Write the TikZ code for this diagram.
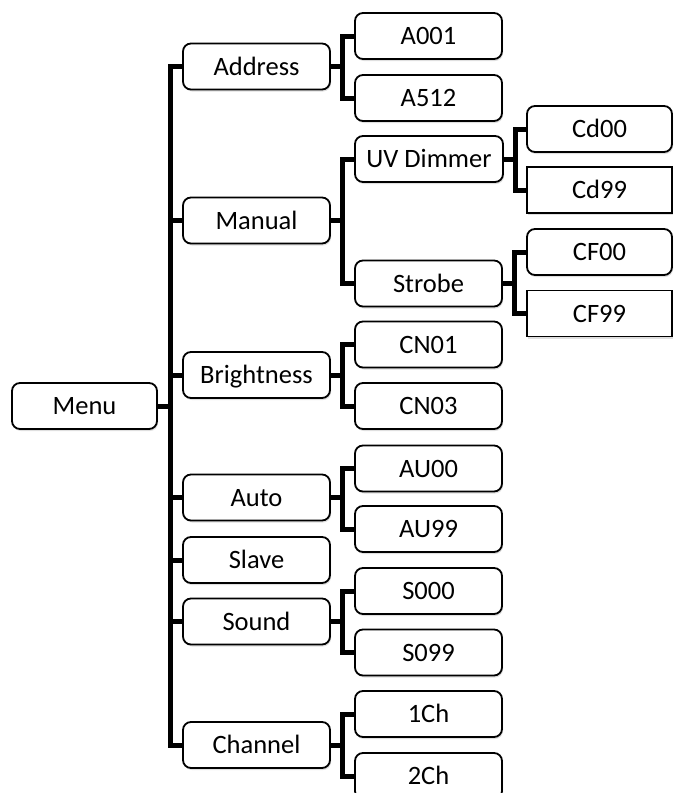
\documentclass[tikz,border=0pt]{standalone}
\usepackage{fontspec}
\setmainfont{Carlito}
\usetikzlibrary{calc,shadows}
\tikzset{
  box/.style={draw=black, line width=1.8pt, fill=white, rounded corners=8pt,
    minimum height=46pt, minimum width=147pt, inner sep=0pt,
    font=\fontsize{26.5}{30}\selectfont, text height=17pt, text depth=0pt,
    drop shadow={opacity=0.25, shadow xshift=1pt, shadow yshift=-2pt}},
  sqbox/.style={box, rounded corners=0pt},
  conn/.style={draw=black, line width=5pt}
}
\newcommand\myconn[2]{\draw[conn] (#1.east) -| ($(#1.east)!.5!(#2.west)$) |- (#2.west);}
\begin{document}
\begin{tikzpicture}[x=1pt,y=-1pt]
\useasboundingbox (0,0) rectangle (673,793);
\clip (0,0) rectangle (673,793);
\path
 (84.5,406) coordinate (cMenu)
 (256.5,66.5) coordinate (cAddress)
 (256.5,220.5) coordinate (cManual)
 (256.5,375) coordinate (cBright)
 (256.5,497.5) coordinate (cAuto)
 (256.5,560) coordinate (cSlave)
 (256.5,621.5) coordinate (cSound)
 (256.5,745) coordinate (cChannel);
\node[box, minimum width=145pt] (menu) at (cMenu) {Menu};
\node[box] (address) at (cAddress) {Address};
\node[box] (manual) at (cManual) {Manual};
\node[box] (bright) at (cBright) {Brightness};
\node[box] (auto) at (cAuto) {Auto};
\node[box] (slave) at (cSlave) {Slave};
\node[box] (sound) at (cSound) {Sound};
\node[box] (channel) at (cChannel) {Channel};
\node[box] (a001) at (428.5,36) {A001};
\node[box] (a512) at (428.5,98) {A512};
\node[box, minimum width=148pt] (uv) at (429,159) {UV Dimmer};
\node[box] (strobe) at (428.5,283.5) {Strobe};
\node[box] (cn01) at (428.5,344.5) {CN01};
\node[box] (cn03) at (428.5,406) {CN03};
\node[box] (au00) at (428.5,468.5) {AU00};
\node[box] (au99) at (428.5,529) {AU99};
\node[box] (s000) at (428.5,591) {S000};
\node[box] (s099) at (428.5,652.5) {S099};
\node[box] (ch1) at (428.5,714) {1Ch};
\node[box] (ch2) at (428.5,776) {2Ch};
\node[box, minimum width=145pt] (cd00) at (599.5,129) {Cd00};
\node[sqbox, minimum width=145pt] (cd99) at (599.5,190) {Cd99};
\node[box, minimum width=145pt] (cf00) at (599.5,252) {CF00};
\node[sqbox, minimum width=145pt] (cf99) at (599.5,313.5) {CF99};
\foreach \c in {address,manual,bright,auto,slave,sound,channel} {\myconn{menu}{\c}}
\myconn{address}{a001}
\myconn{address}{a512}
\myconn{manual}{uv}
\myconn{manual}{strobe}
\myconn{uv}{cd00}
\myconn{uv}{cd99}
\myconn{strobe}{cf00}
\myconn{strobe}{cf99}
\myconn{bright}{cn01}
\myconn{bright}{cn03}
\myconn{auto}{au00}
\myconn{auto}{au99}
\myconn{sound}{s000}
\myconn{sound}{s099}
\myconn{channel}{ch1}
\myconn{channel}{ch2}
\end{tikzpicture}
\end{document}
